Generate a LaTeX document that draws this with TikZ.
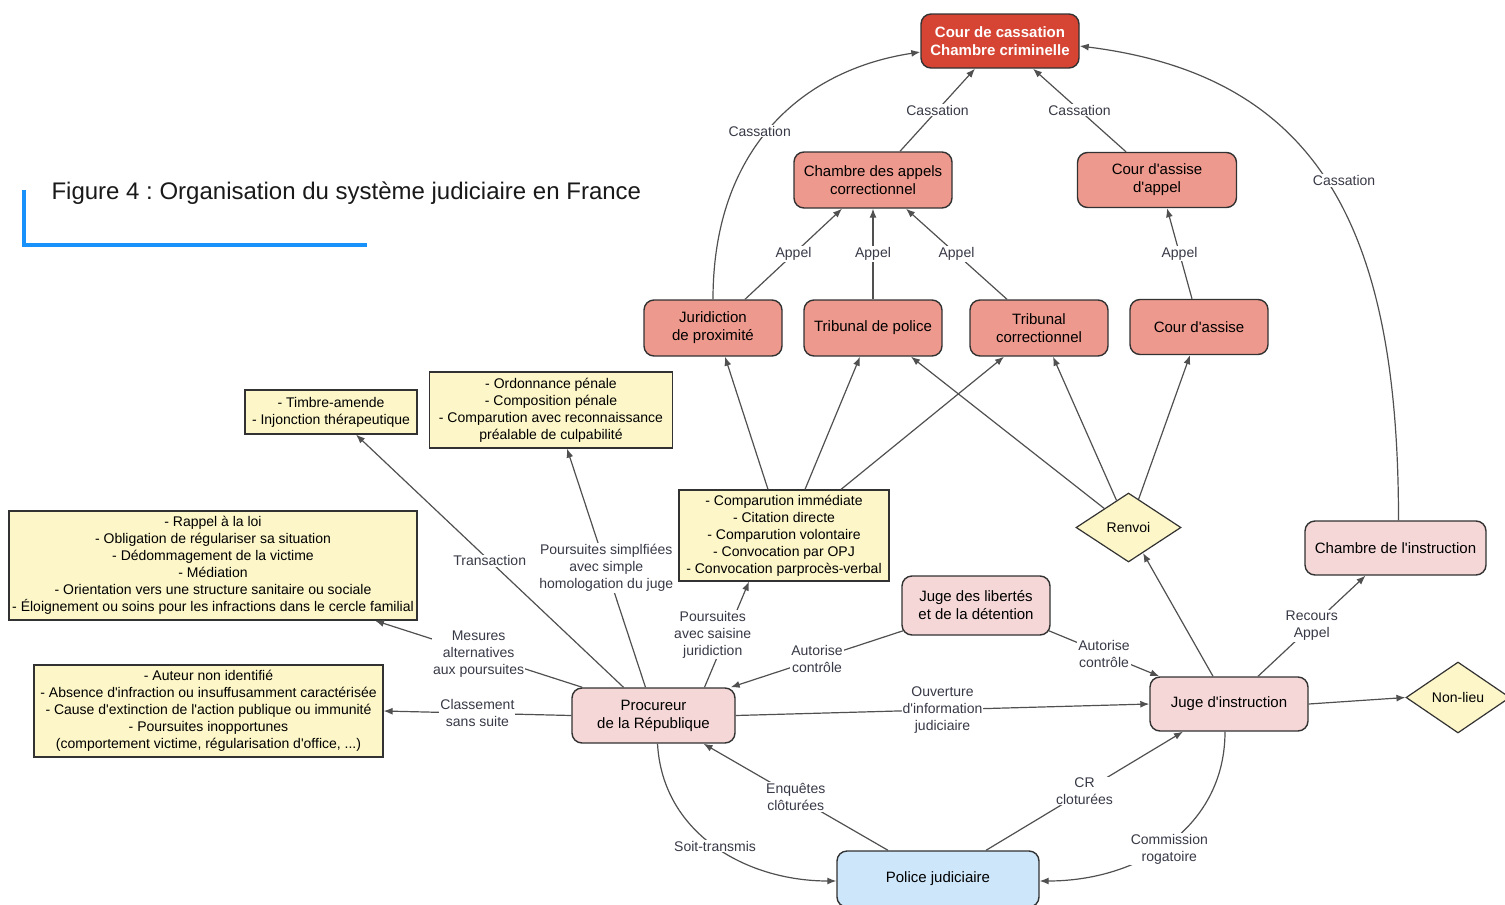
\documentclass[tikz,border=0pt]{standalone}
\usepackage{fontspec}
\setmainfont{Liberation Sans}[Ligatures=TeXOff]
\usetikzlibrary{shapes.geometric,arrows.meta}
\frenchspacing

\definecolor{casred}{RGB}{214,69,52}
\definecolor{salmon}{RGB}{238,153,141}
\definecolor{pinkfill}{RGB}{245,215,215}
\definecolor{notefill}{RGB}{252,246,200}
\definecolor{policefill}{RGB}{205,230,250}
\definecolor{boxline}{RGB}{50,50,50}
\definecolor{edgecol}{RGB}{80,80,80}
\definecolor{labelcol}{RGB}{55,57,70}
\definecolor{titleblue}{RGB}{25,145,250}

\tikzset{
  box/.style={draw=boxline, line width=1.4pt, rounded corners=10pt, align=center,
    inner sep=2pt, font=\fontsize{15}{18}\selectfont, text=black},
  court/.style={box, fill=salmon},
  actor/.style={box, fill=pinkfill},
  note/.style={draw=boxline, line width=1.2pt, fill=notefill, align=center,
    inner xsep=3pt, inner ysep=2pt, font=\fontsize{14}{17}\selectfont},
  choice/.style={diamond, draw=boxline, line width=1.2pt, fill=notefill,
    inner sep=0pt, font=\fontsize{14}{17}\selectfont},
  link/.style={draw=edgecol, line width=1.2pt, -{Latex[length=9pt,width=7pt]}},
  lbl/.style={fill=white, inner sep=1pt, align=center, text=labelcol,
    font=\fontsize{14}{17}\selectfont},
}

\begin{document}
\begin{tikzpicture}[x=1pt, y=-1pt]
\useasboundingbox (0,0) rectangle (1505,905);

% title with its blue corner rule
\node[anchor=west, font=\fontsize{24}{28}\selectfont, text=black!90] (title) at (48,193)
  {Figure 4 : Organisation du système judiciaire en France};
\draw[titleblue, line width=4pt] (24,190) -- (24,245) -- (367,245);

% courts
\node[box, fill=casred, text=white, font=\bfseries\fontsize{15}{18}\selectfont,
  minimum width=158pt, minimum height=54pt] (cc) at (1000,41)
  {Cour de cassation\\Chambre criminelle};
\node[court, minimum width=158pt, minimum height=56pt] (ca) at (873,180)
  {Chambre des appels\\correctionnel};
\node[court, minimum width=159pt, minimum height=55pt] (caa) at (1157,180)
  {Cour d'assise\\d'appel};
\node[court, minimum width=138pt, minimum height=56pt] (jp) at (713,328)
  {Juridiction\\de proximité};
\node[court, minimum width=138pt, minimum height=56pt] (tp) at (873,328)
  {Tribunal de police};
\node[court, minimum width=138pt, minimum height=56pt] (tc) at (1039,328)
  {Tribunal\\correctionnel};
\node[court, minimum width=138pt, minimum height=55pt] (cas) at (1199,327)
  {Cour d'assise};

% procedure notes
\node[note, minimum width=172pt, minimum height=44pt] (tb) at (331,412)
  {- Timbre-amende\\- Injonction thérapeutique};
\node[note, minimum width=243pt, minimum height=76pt] (ord) at (551,410)
  {- Ordonnance pénale\\- Composition pénale\\- Comparution avec reconnaissance\\préalable de culpabilité};
\node[note, minimum width=408pt, minimum height=109pt] (rp) at (213,565.5)
  {- Rappel à la loi\\- Obligation de régulariser sa situation\\- Dédommagement de la victime\\- Médiation\\- Orientation vers une structure sanitaire ou sociale\\- Éloignement ou soins pour les infractions dans le cercle familial};
\node[note, minimum width=210pt, minimum height=91pt] (cmp) at (784,535.5)
  {- Comparution immédiate\\- Citation directe\\- Comparution volontaire\\- Convocation par OPJ\\- Convocation parprocès-verbal};
\node[note, minimum width=349pt, minimum height=92pt] (au) at (208.5,711)
  {- Auteur non identifié\\- Absence d'infraction ou insuffusamment caractérisée\\- Cause d'extinction de l'action publique ou immunité\\- Poursuites inopportunes\\(comportement victime, régularisation d'office, ...)};

% decisions
\node[choice, minimum width=105pt, minimum height=69pt] (rv) at (1128.5,527.5) {Renvoi};
\node[choice, minimum width=104pt, minimum height=71pt] (nl) at (1458,697.5) {Non-lieu};

% actors
\node[actor, minimum width=181pt, minimum height=54pt] (ci) at (1395.5,548)
  {Chambre de l'instruction};
\node[actor, minimum width=148pt, minimum height=59pt] (jld) at (976,605.5)
  {Juge des libertés\\et de la détention};
\node[actor, minimum width=163pt, minimum height=55pt] (pr) at (653.5,715.5)
  {Procureur\\de la République};
\node[actor, minimum width=158pt, minimum height=54pt] (ji) at (1229,704)
  {Juge d'instruction};
\node[box, fill=policefill, minimum width=202pt, minimum height=56pt] (pj) at (938,879)
  {Police judiciaire};

% appeals to the Cour de cassation
\draw[link] ([xshift=27pt]ca.north) -- node[lbl]{Cassation} ([xshift=-25pt]cc.south);
\draw[link] ([xshift=-31pt]caa.north) -- node[lbl]{Cassation} ([xshift=33pt]cc.south);
\draw[link] (jp.north) .. controls +(0,-150) and +(-119,18) .. node[lbl, pos=0.48, xshift=-8pt]{Cassation} ([yshift=-11pt]cc.west);
\draw[link] ([xshift=3pt]ci.north) .. controls +(0,-291) and +(240,30) .. node[lbl, pos=0.51, xshift=18pt]{Cassation} ([yshift=-5pt]cc.east);

% appeals
\draw[link] ([xshift=32pt]jp.north) -- node[lbl]{Appel} ([xshift=-31pt]ca.south);
\draw[link] (tp.north) -- node[lbl]{Appel} (ca.south);
\draw[link] ([xshift=-32pt]tc.north) -- node[lbl]{Appel} ([xshift=33pt]ca.south);
\draw[link] ([xshift=-7pt]cas.north) -- node[lbl]{Appel} ([xshift=10pt]caa.south);

% referral to the trial courts
\draw[link] ([xshift=-16pt]cmp.north) -- ([xshift=12pt]jp.south);
\draw[link] ([xshift=21pt]cmp.north) -- ([xshift=-13pt]tp.south);
\draw[link] ([xshift=57pt]cmp.north) -- ([xshift=-35pt]tc.south);
\draw[link] (rv) -- ([xshift=38pt]tp.south);
\draw[link] (rv) -- ([xshift=14pt]tc.south);
\draw[link] (rv) -- ([xshift=-9pt]cas.south);

% investigating judge
\draw[link] ([xshift=-16pt]ji.north) -- (rv);
\draw[link] ([xshift=29pt]ji.north) -- node[lbl]{Recours\\Appel} ([xshift=-30pt]ci.south);
\draw[link] (ji.east) -- (nl.west);

% public prosecutor
\draw[link] (pr.east) -- node[lbl]{Ouverture\\d'information\\judiciaire} (ji.west);
\draw[link] ([xshift=2pt,yshift=5pt]jld.south west) -- node[lbl]{Autorise\\contrôle} ([xshift=-5pt]pr.north east);
\draw[link] ([xshift=-2pt,yshift=5pt]jld.south east) -- node[lbl]{Autorise\\contrôle} ([xshift=10pt]ji.north west);
\draw[link] ([xshift=51pt]pr.north) -- node[lbl, xshift=-14pt]{Poursuites\\avec saisine\\juridiction} ([xshift=-35pt]cmp.south);
\draw[link] ([xshift=-8pt]pr.north) -- node[lbl]{Poursuites simplfiées\\avec simple\\homologation du juge} ([xshift=16pt]ord.south);
\draw[link] ([xshift=-30pt]pr.north) -- node[lbl]{Transaction} ([xshift=25pt]tb.south);
\draw[link] ([xshift=11pt]pr.north west) -- node[lbl]{Mesures\\alternatives\\aux poursuites} ([xshift=162pt]rp.south);
\draw[link] (pr.west) -- node[lbl]{Classement\\sans suite} (au.east);

% judicial police
\draw[link] ([xshift=-50pt]pj.north) -- node[lbl]{Enquêtes\\clôturées} ([xshift=50pt]pr.south);
\draw[link] ([xshift=48pt]pj.north) -- node[lbl]{CR\\cloturées} ([xshift=-46pt]ji.south);
\draw[link] ([xshift=4pt]pr.south) .. controls +(5,90) and +(-90,0) .. node[lbl, pos=0.5]{Soit-transmis} ([yshift=-2pt]pj.west);
\draw[link] ([xshift=-4pt]ji.south) .. controls +(0,95) and +(100,0) .. node[lbl, pos=0.55, xshift=10pt]{Commission\\rogatoire} ([yshift=-2pt]pj.east);
\end{tikzpicture}
\end{document}
